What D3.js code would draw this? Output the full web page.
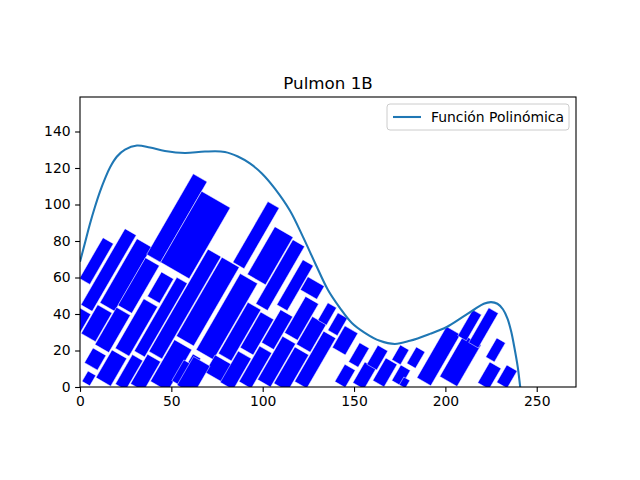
<!DOCTYPE html>
<html><head><meta charset="utf-8">
<script src="https://cdn.jsdelivr.net/npm/d3@7"></script>
<style>body{margin:0;background:#fff}</style>
</head><body>
<svg id="chart" width="640" height="480"></svg>
<script>
// ---- data ----
const title = "Pulmon 1B";
const legendLabel = "Función Polinómica";
const xTicks = [0, 50, 100, 150, 200, 250];
const yTicks = [0, 20, 40, 60, 80, 100, 120, 140];
const xDomain = [0, 271.5];
const yDomain = [0, 158.9];

// polynomial curve
const curveX = [0, 2.74, 5.47, 8.21, 10.94, 13.68, 16.41, 20.24, 24.62, 31.18, 38.29, 46.5, 57.44, 68.38, 79.32, 86.43, 93.0, 99.56, 106.67, 114.88, 121.99, 129.1, 135.67, 142.23, 148.8, 155.91, 164.11, 172.32, 180.53, 191.47, 200.77, 209.52, 216.0, 221.0, 225.0, 228.5, 231.5, 234.0, 236.0, 237.8, 239.6, 240.97, 242.0];
const curveY = [68.6, 79.1, 89.5, 98.8, 107.1, 114.2, 120.3, 126.3, 130.1, 132.3, 131.2, 129.3, 128.2, 129.0, 128.8, 126.3, 122.5, 117.0, 108.7, 96.7, 82.4, 67.0, 53.3, 43.4, 35.1, 29.7, 25.3, 23.6, 25.3, 29.1, 32.9, 38.4, 42.6, 45.6, 46.5, 45.6, 42.6, 37.5, 30.5, 21.5, 11.0, 0, -8];

// rotated rectangles: top corner (x, y), short side, long side; all rotated by the same angle
const rectAngle = 60;
const rectTopX = [12.58, 24.62, 31.18, 9.68, -0.27, 7.11, 4.38, 17.51, 61.98, 35.83, 19.97, 66.58, 44.58, 34.9, 53.01, 28.67, 70.08, 36.98, 77.68, 51.7, 87.69, 91.9, 61.82, 56.84, 73.96, 86.6, 98.91, 98.3, 109.79, 121.99, 116.52, 106.67, 102.84, 124.73, 110.89, 123.47, 117.61, 127.19, 135.67, 141.14, 133.37, 144.97, 153.06, 144.97, 155.91, 163.02, 167.4, 175.33, 175.6, 177.24, 184.08, 200.6, 210.07, 214.99, 223.74, 228.12, 224.29, 233.59, 62.14];
const rectTopY = [81.82, 86.77, 81.27, 45.03, 43.38, 21.42, 8.79, 20.32, 116.8, 70.84, 43.66, 107.25, 63.04, 48.33, 60.08, 17.74, 75.51, 17.96, 71.11, 25.92, 62.16, 46.4, 18.12, 14.83, 17.57, 19.66, 41.08, 22.41, 42.39, 69.74, 80.72, 87.86, 101.59, 60.41, 27.79, 49.64, 21.97, 38.61, 46.13, 40.64, 30.59, 33.5, 24.27, 12.47, 13.73, 22.9, 15.93, 23.06, 12.08, 5.49, 21.97, 33.11, 28.56, 42.28, 43.38, 26.91, 13.73, 12.08, 16.69];
const rectShort = [6.58, 7.12, 9.32, 9.04, 7.12, 8.22, 4.93, 9.32, 8.77, 8.77, 8.77, 18.08, 7.67, 8.77, 6.58, 6.58, 8.22, 8.22, 10.96, 10.96, 10.96, 8.22, 4.93, 7.12, 15.34, 8.22, 8.22, 7.67, 7.67, 6.58, 7.4, 11.51, 7.12, 10.41, 8.22, 8.22, 8.77, 8.77, 5.48, 6.03, 7.67, 8.22, 6.03, 6.58, 7.12, 6.3, 7.12, 5.48, 6.03, 3.84, 5.48, 8.77, 10.96, 5.48, 6.03, 5.48, 7.12, 6.58, 10.41];
const rectLong = [25.75, 48.22, 40.55, 18.08, 12.6, 9.32, 6.58, 17.53, 50.96, 30.14, 23.56, 44.93, 15.34, 31.23, 46.58, 18.63, 64.66, 18.63, 49.86, 26.3, 48.22, 32.33, 5.48, 13.15, 10.96, 19.73, 22.47, 22.47, 20.82, 28.49, 40.55, 30.14, 38.36, 8.22, 27.4, 23.01, 23.01, 17.53, 10.96, 10.96, 31.78, 13.7, 12.05, 10.96, 13.15, 12.05, 14.25, 9.32, 9.86, 4.93, 10.41, 32.33, 26.3, 16.44, 21.92, 12.05, 13.15, 10.96, 18.08];

// ---- chart ----
const svg = d3.select("#chart");
const font = "DejaVu Sans, sans-serif";
const x = d3.scaleLinear().domain(xDomain).range([80, 576]);
const y = d3.scaleLinear().domain(yDomain).range([387, 97]);

svg.append("defs").append("clipPath").attr("id", "clip")
  .append("rect").attr("x", x(xDomain[0])).attr("y", y(yDomain[1]))
  .attr("width", x(xDomain[1]) - x(xDomain[0])).attr("height", y(yDomain[0]) - y(yDomain[1]));

const plot = svg.append("g").attr("clip-path", "url(#clip)");

const a = rectAngle * Math.PI / 180;
const dLong = [-Math.cos(a), -Math.sin(a)];
const dShort = [Math.sin(a), -Math.cos(a)];
const rects = rectTopX.map((tx, i) => {
  const ty = rectTopY[i], w = rectShort[i], l = rectLong[i];
  return [
    [tx, ty],
    [tx + w * dShort[0], ty + w * dShort[1]],
    [tx + w * dShort[0] + l * dLong[0], ty + w * dShort[1] + l * dLong[1]],
    [tx + l * dLong[0], ty + l * dLong[1]]
  ];
});
plot.selectAll("polygon.box").data(rects).join("polygon")
  .attr("class", "box")
  .attr("points", d => d.map(p => x(p[0]) + "," + y(p[1])).join(" "))
  .attr("fill", "#0000ff")
  .attr("stroke", "#ffffff")
  .attr("stroke-width", 0.5);

const line = d3.line().x(d => x(d[0])).y(d => y(d[1])).curve(d3.curveCatmullRom.alpha(0.5));
plot.append("path").datum(curveX.map((v, i) => [v, curveY[i]]))
  .attr("d", line).attr("fill", "none").attr("stroke", "#1f77b4").attr("stroke-width", 2.08);

// axes
const xAxis = svg.append("g").attr("transform", `translate(0,${y(0)})`)
  .call(d3.axisBottom(x).tickValues(xTicks).tickFormat(d3.format("d")).tickSize(4.9).tickPadding(4.5));
const yAxis = svg.append("g").attr("transform", `translate(${x(0)},0)`)
  .call(d3.axisLeft(y).tickValues(yTicks).tickFormat(d3.format("d")).tickSize(4.9).tickPadding(4.5));
[xAxis, yAxis].forEach(g => {
  g.select(".domain").remove();
  g.selectAll("line").attr("stroke", "#000").attr("stroke-width", 1.1);
  g.selectAll("text").attr("font-family", font).attr("font-size", "13.9px").attr("fill", "#000");
});
svg.append("rect").attr("x", x(xDomain[0])).attr("y", y(yDomain[1]))
  .attr("width", x(xDomain[1]) - x(xDomain[0])).attr("height", y(yDomain[0]) - y(yDomain[1]))
  .attr("fill", "none").attr("stroke", "#000").attr("stroke-width", 1.1);

// title
svg.append("text").attr("x", (x(xDomain[0]) + x(xDomain[1])) / 2).attr("y", y(yDomain[1]) - 8.5)
  .attr("text-anchor", "middle").attr("font-family", font).attr("font-size", "16.7px").text(title);

// legend
const lg = svg.append("g");
lg.append("rect").attr("x", 387).attr("y", 104).attr("width", 182).attr("height", 26).attr("rx", 3)
  .attr("fill", "#fff").attr("fill-opacity", 0.8).attr("stroke", "#cccccc").attr("stroke-width", 1);
lg.append("line").attr("x1", 393).attr("x2", 421).attr("y1", 117).attr("y2", 117)
  .attr("stroke", "#1f77b4").attr("stroke-width", 2.08);
lg.append("text").attr("x", 431).attr("y", 121.8).attr("font-family", font).attr("font-size", "13.9px").text(legendLabel);
</script>
</body></html>
